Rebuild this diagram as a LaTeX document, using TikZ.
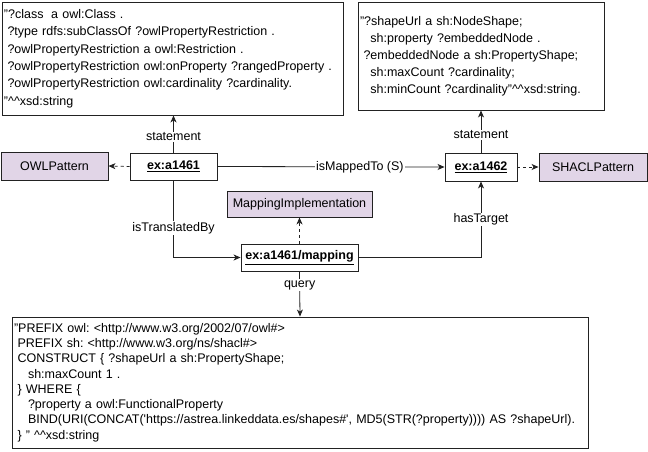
\documentclass[tikz,border=0pt]{standalone}
\usepackage{fontspec}
\setmainfont{Liberation Sans}
\usetikzlibrary{arrows.meta}
\frenchspacing
\newcommand\ind[1]{\hspace*{#1}}
\newcommand\qs{\textquotesingle}
\newcommand\caret{\textasciicircum}
\definecolor{purplefill}{HTML}{E1D5E7}
\definecolor{edgecol}{HTML}{222222}
\begin{document}
\begin{tikzpicture}[x=1pt,y=-1pt,
  every node/.style={font=\fontsize{12.5}{15}\selectfont},
  txtbox/.style={draw=edgecol, line width=0.9pt, inner xsep=2pt, inner ysep=0pt, align=left},
  inst/.style={draw=edgecol, line width=0.9pt, fill=white, inner sep=0pt, font=\fontsize{12.5}{15}\selectfont\bfseries},
  cls/.style={draw=edgecol, line width=0.9pt, fill=purplefill, inner sep=0pt},
  lab/.style={fill=white, inner sep=1pt},
  conn/.style={draw=edgecol, line width=0.8pt, -{Stealth[length=7pt,width=6pt,inset=2pt]}},
  dconn/.style={conn, dash pattern=on 3pt off 3pt}]
\useasboundingbox (0,0) rectangle (648,452);

% top text boxes
\node[txtbox, minimum width=341pt, minimum height=113pt, text width=337pt,
  font=\fontsize{12.5}{17.4}\selectfont] (tl) at (172.5,58.5)
  {"?class\ind{3.5pt} a owl:Class .\\
   \ind{3.5pt}?type rdfs:subClassOf ?owlPropertyRestriction .\\
   \ind{3.5pt}?owlPropertyRestriction a owl:Restriction .\\
   \ind{3.5pt}?owlPropertyRestriction owl:onProperty ?rangedProperty .\\
   \ind{3.5pt}?owlPropertyRestriction owl:cardinality ?cardinality.\\
   "\caret\caret xsd:string};

\node[txtbox, minimum width=246pt, minimum height=108pt, text width=242pt,
  font=\fontsize{12.5}{17}\selectfont] (tr) at (481,56)
  {"?shapeUrl a sh:NodeShape;\\
   \ind{10.4pt}sh:property ?embeddedNode .\\
   \ind{3.5pt}?embeddedNode a sh:PropertyShape;\\
   \ind{10.4pt}sh:maxCount ?cardinality;\\
   \ind{10.4pt}sh:minCount ?cardinality"\caret\caret xsd:string.};

% middle nodes
\node[cls, minimum width=107pt, minimum height=28pt] (owlp) at (54.5,166) {OWLPattern};
\node[inst, minimum width=87pt, minimum height=27pt] (a1461) at (173.5,166.5) {\underline{ex:a1461}};
\node[inst, minimum width=72pt, minimum height=28pt] (a1462) at (481,167) {\underline{ex:a1462}};
\node[cls, minimum width=108pt, minimum height=28pt] (shaclp) at (593,167) {SHACLPattern};
\node[cls, minimum width=145pt, minimum height=26pt] (mimpl) at (299.5,204) {MappingImplementation};
\node[inst, minimum width=117pt, minimum height=27pt] (map) at (299.5,257.5) {\underline{ex:a1461/mapping}};

% bottom text box
\node[txtbox, minimum width=576pt, minimum height=131pt, text width=572pt,
  font=\fontsize{12.5}{15.3}\selectfont] (big) at (300,382.5)
  {"PREFIX owl: <http://www.w3.org/2002/07/owl\#>\\
   \ind{3.5pt}PREFIX sh: <http://www.w3.org/ns/shacl\#>\\
   \ind{3.5pt}CONSTRUCT \{ ?shapeUrl a sh:PropertyShape;\\
   \ind{14pt}sh:maxCount 1 .\\
   \ind{3.5pt}\} WHERE \{\\
   \ind{14pt}?property a owl:FunctionalProperty\\
   \ind{14pt}BIND(URI(CONCAT(\qs https://astrea.linkeddata.es/shapes\#\qs, MD5(STR(?property)))) AS ?shapeUrl).\\
   \ind{3.5pt}\} " \caret\caret xsd:string};

% connectors
\draw[conn] (a1461.north) -- node[lab, pos=0.42] (lst) {statement} (a1461.north |- tl.south);
\draw[conn] (a1462.north) -- node[lab, pos=0.42] (rst) {statement} (a1462.north |- tr.south);
\draw[dconn] (a1461.west) -- (owlp.east);
\draw[dconn] (a1462.east) -- (shaclp.east -| shaclp.west);
\draw[conn] (a1461.east) -- node[lab, pos=0.627] (mt) {isMappedTo (S)} (a1462.west);
\draw[dconn] (map.north) -- (mimpl.south);
\draw[conn] (a1461.south) |- node[lab, pos=0.31] (tb) {isTranslatedBy} (map.west);
\draw[conn] (map.east) -| node[lab, pos=0.75] (ht) {hasTarget} (a1462.south);
\draw[conn] (map.south) -- node[lab, pos=0.3] (qy) {query} (big.north);
\end{tikzpicture}
\end{document}
